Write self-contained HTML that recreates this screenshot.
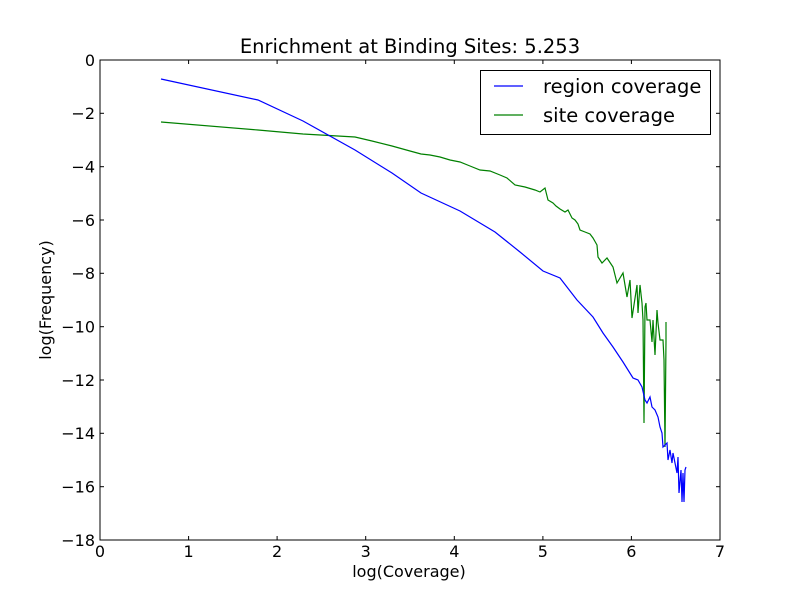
<!DOCTYPE html>
<html><head><meta charset="utf-8"><style>
body{margin:0;background:#fff}
svg text{font-family:"DejaVu Sans","Liberation Sans",sans-serif;fill:#000}
</style></head><body>
<svg width="800" height="600" xmlns="http://www.w3.org/2000/svg">
<rect width="800" height="600" fill="#fff"/>
<text x="410" y="53" font-size="19.5" text-anchor="middle">Enrichment at Binding Sites: 5.253</text>
<g stroke="#000" stroke-width="1">
<line x1="100" y1="540" x2="100" y2="536"/><line x1="100" y1="60" x2="100" y2="64"/>
<line x1="188.6" y1="540" x2="188.6" y2="536"/><line x1="188.6" y1="60" x2="188.6" y2="64"/>
<line x1="277.1" y1="540" x2="277.1" y2="536"/><line x1="277.1" y1="60" x2="277.1" y2="64"/>
<line x1="365.7" y1="540" x2="365.7" y2="536"/><line x1="365.7" y1="60" x2="365.7" y2="64"/>
<line x1="454.3" y1="540" x2="454.3" y2="536"/><line x1="454.3" y1="60" x2="454.3" y2="64"/>
<line x1="542.9" y1="540" x2="542.9" y2="536"/><line x1="542.9" y1="60" x2="542.9" y2="64"/>
<line x1="631.4" y1="540" x2="631.4" y2="536"/><line x1="631.4" y1="60" x2="631.4" y2="64"/>
<line x1="100" y1="113.3" x2="104" y2="113.3"/><line x1="720" y1="113.3" x2="716" y2="113.3"/>
<line x1="100" y1="166.7" x2="104" y2="166.7"/><line x1="720" y1="166.7" x2="716" y2="166.7"/>
<line x1="100" y1="220" x2="104" y2="220"/><line x1="720" y1="220" x2="716" y2="220"/>
<line x1="100" y1="273.3" x2="104" y2="273.3"/><line x1="720" y1="273.3" x2="716" y2="273.3"/>
<line x1="100" y1="326.7" x2="104" y2="326.7"/><line x1="720" y1="326.7" x2="716" y2="326.7"/>
<line x1="100" y1="380" x2="104" y2="380"/><line x1="720" y1="380" x2="716" y2="380"/>
<line x1="100" y1="433.3" x2="104" y2="433.3"/><line x1="720" y1="433.3" x2="716" y2="433.3"/>
<line x1="100" y1="486.7" x2="104" y2="486.7"/><line x1="720" y1="486.7" x2="716" y2="486.7"/>
</g>
<g font-size="16" text-anchor="middle">
<text x="100" y="557">0</text><text x="188.6" y="557">1</text><text x="277.1" y="557">2</text><text x="365.7" y="557">3</text><text x="454.3" y="557">4</text><text x="542.9" y="557">5</text><text x="631.4" y="557">6</text><text x="720" y="557">7</text>
</g>
<g font-size="16" text-anchor="end">
<text x="95" y="66">0</text><text x="95" y="119">−2</text><text x="95" y="172.5">−4</text><text x="95" y="226">−6</text><text x="95" y="279">−8</text><text x="95" y="332.5">−10</text><text x="95" y="386">−12</text><text x="95" y="439">−14</text><text x="95" y="492.5">−16</text><text x="95" y="546">−18</text>
</g>
<text x="409" y="577" font-size="16" text-anchor="middle">log(Coverage)</text>
<text x="51" y="300" font-size="16" text-anchor="middle" transform="rotate(-90 51 300)">log(Frequency)</text>
<polyline fill="none" stroke="#008000" stroke-width="1.2" points="161,122 258,130 303,134 355,137 372,141 392,146 410,151 421,154 430,155 440,157 450,160 460,162 470,166 480,170 490,171 500,175 507,178 515,185 525,187 535,190 540,192 545,188 548,200 553,203 556,206 560,209 565,212 568,210 572,218 575,220 578,224 580,230 585,232 590,234 593,238 597,245 598,257 602,263 607,258 613,267 617,283 623,273 627,297 630,280 632,318 637,285 638,313 640,285 642,303 643,320 644,423 645,307 646,303 647,320 650,320 652,342 653,320 655,355 657,310 658,323 660,340 663,340 664,360 665,447 666,340 666,322"/>
<polyline fill="none" stroke="#0000ff" stroke-width="1.2" points="161,79 258,100 303,121 355,150 392,173 421,193 460,211 495,232 520,252 543,271 560,278 577,300 593,317 603,333 613,347 623,362 633,378 638,380 642,387 645,400 647,403 650,397 652,407 655,410 658,417 660,427 662,433 663,447 667,443 668,460 670,450 672,463 673,453 675,463 677,473 678,457 679,493 681,470 682,502 683,473 684,502 685,470 686,467"/>
<rect x="100" y="60" width="620" height="480" fill="none" stroke="#000" stroke-width="1"/>
<rect x="480.5" y="70.5" width="230" height="64" fill="#fff" stroke="#000" stroke-width="1"/>
<line x1="494" y1="86" x2="523" y2="86" stroke="#0000ff" stroke-width="1.2"/>
<line x1="494" y1="115" x2="523" y2="115" stroke="#008000" stroke-width="1.2"/>
<text x="543" y="93" font-size="19.5">region coverage</text>
<text x="543" y="122" font-size="19.5">site coverage</text>
</svg>
</body></html>
